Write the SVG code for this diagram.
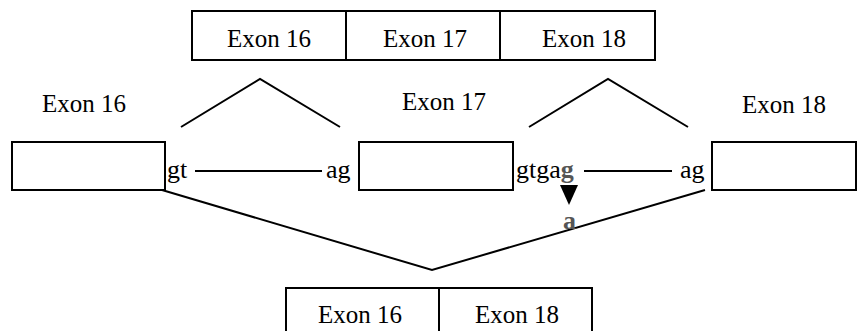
<svg xmlns="http://www.w3.org/2000/svg" width="861" height="331" viewBox="0 0 861 331" font-family="Liberation Serif, DejaVu Serif, Times New Roman, serif">
<style>
.box{fill:#fff;stroke:#000;stroke-width:2}
.ln{fill:none;stroke:#000;stroke-width:2}
.t{font-size:25px;fill:#000}
.s{font-size:26px;fill:#000}
.g{font-weight:bold;fill:#555}
</style>
<g id="connectors">
<polyline class="ln" points="181,127 260,79 340,127"/>
<polyline class="ln" points="529,127 608,79 688,127"/>
<polyline class="ln" points="162,190 432,270 705,190"/>
<line class="ln" x1="195" y1="171" x2="322" y2="171"/>
<line class="ln" x1="584" y1="171" x2="672" y2="171"/>
</g>
<g id="spliced-top">
<rect class="box" x="192" y="11" width="463" height="49"/>
<line class="ln" x1="346" y1="11" x2="346" y2="60"/>
<line class="ln" x1="500" y1="11" x2="500" y2="60"/>
<text class="t" x="227" y="47">Exon 16</text>
<text class="t" x="383" y="47">Exon 17</text>
<text class="t" x="542" y="47">Exon 18</text>
</g>
<g id="exon16">
<text class="t" x="42" y="112">Exon 16</text>
<rect class="box" x="12" y="142" width="153" height="48"/>
<text class="s" x="167" y="178">gt</text>
</g>
<g id="exon17">
<text class="t" x="402" y="110">Exon 17</text>
<text class="s" x="326" y="178">ag</text>
<rect class="box" x="359" y="142" width="154" height="48"/>
<text class="s" x="516" y="178">gtga<tspan class="g">g</tspan></text>
<polygon points="560,185 578,185 569,205" fill="#000"/>
<text class="s g" x="563" y="229">a</text>
</g>
<g id="exon18">
<text class="t" x="742" y="113">Exon 18</text>
<text class="s" x="680" y="178">ag</text>
<rect class="box" x="712" y="142" width="144" height="48"/>
</g>
<g id="spliced-bottom">
<rect class="box" x="286" y="288" width="306" height="50"/>
<line class="ln" x1="439" y1="288" x2="439" y2="331"/>
<text class="t" x="318" y="323">Exon 16</text>
<text class="t" x="475" y="323">Exon 18</text>
</g>
</svg>
